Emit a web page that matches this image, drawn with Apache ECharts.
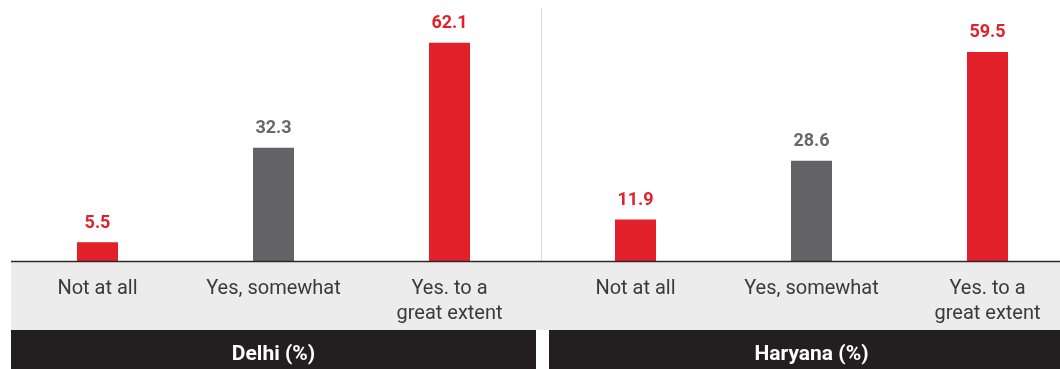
<!DOCTYPE html>
<html>
<head>
<meta charset="utf-8">
<script src="https://cdn.jsdelivr.net/npm/echarts@6/dist/echarts.min.js"></script>
<style>
  html, body { margin: 0; padding: 0; background: #fff; }
  #chart { width: 1060px; height: 369px; }
</style>
</head>
<body>
<div id="chart"></div>
<script>
// Responses by state, in percent
const categories = ['Not at all', 'Yes, somewhat', 'Yes. to a\ngreat extent'];
const delhiValues = [5.5, 32.3, 62.1];
const haryanaValues = [11.9, 28.6, 59.5];
const panelTitles = ['Delhi (%)', 'Haryana (%)'];
const barColors = ['#e2202a', '#636365', '#e2202a'];

const FONT = 'Roboto, "Liberation Sans", sans-serif';

function seriesData(values) {
  return values.map((v, i) => ({
    value: v,
    itemStyle: { color: barColors[i] },
    label: { color: barColors[i] === '#636365' ? '#68686a' : '#e2202a' }
  }));
}

function xAxisFor(gridIndex) {
  return {
    type: 'category',
    gridIndex,
    data: categories,
    boundaryGap: false,
    axisLine: { show: false },
    axisTick: { show: false },
    axisLabel: {
      color: '#3a3a3a',
      fontFamily: FONT,
      fontSize: 20,
      lineHeight: 25,
      margin: 15,
      interval: 0
    }
  };
}

function yAxisFor(gridIndex) {
  return {
    type: 'value',
    gridIndex,
    min: 0,
    max: 70,
    show: false,
    splitLine: { show: false }
  };
}

function barSeries(idx, values) {
  return {
    type: 'bar',
    xAxisIndex: idx,
    yAxisIndex: idx,
    barWidth: 41,
    clip: false,
    data: seriesData(values),
    label: {
      show: true,
      position: 'top',
      distance: 10,
      fontFamily: FONT,
      fontWeight: 'bold',
      fontSize: 18
    }
  };
}

const chart = echarts.init(document.getElementById('chart'));
chart.setOption({
  animation: false,
  grid: [
    { left: 97.5, width: 352, top: 15, bottom: 107.5 },
    { left: 635.5, width: 352, top: 15, bottom: 107.5 }
  ],
  xAxis: [xAxisFor(0), xAxisFor(1)],
  yAxis: [yAxisFor(0), yAxisFor(1)],
  series: [barSeries(0, delhiValues), barSeries(1, haryanaValues)],
  graphic: [
    // label band under the baseline
    { type: 'rect', z: -10, shape: { x: 11, y: 262, width: 1049, height: 68 }, style: { fill: '#ececec' } },
    // baseline
    { type: 'line', z: 10, shape: { x1: 11, y1: 261.5, x2: 1060, y2: 261.5 }, style: { stroke: '#2a2a2a', lineWidth: 1.5 } },
    // divider between the two panels
    { type: 'line', z: -5, shape: { x1: 541.5, y1: 8, x2: 541.5, y2: 261 }, style: { stroke: '#dedede', lineWidth: 1 } },
    // panel title bars
    { type: 'rect', shape: { x: 11, y: 330, width: 525, height: 39 }, style: { fill: '#231f20' } },
    { type: 'rect', shape: { x: 549, y: 330, width: 511, height: 39 }, style: { fill: '#231f20' } },
    { type: 'text', x: 273.5, y: 355, style: { text: panelTitles[0], fill: '#ffffff', font: 'bold 21px ' + FONT, textAlign: 'center', textVerticalAlign: 'middle' } },
    { type: 'text', x: 811.5, y: 355, style: { text: panelTitles[1], fill: '#ffffff', font: 'bold 21px ' + FONT, textAlign: 'center', textVerticalAlign: 'middle' } }
  ]
});
</script>
</body>
</html>
